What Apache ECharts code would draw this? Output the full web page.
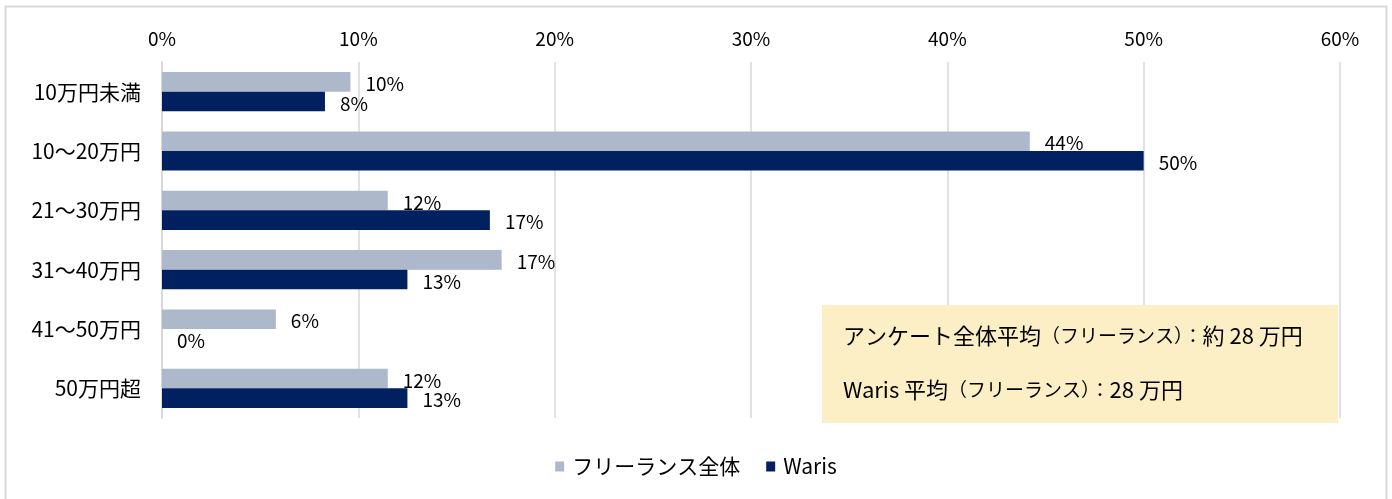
<!DOCTYPE html>
<html>
<head>
<meta charset="utf-8">
<script src="https://cdn.jsdelivr.net/npm/echarts@6/dist/echarts.min.js"></script>
<style>
  html, body { margin: 0; padding: 0; background: #fff; }
  #chart { width: 1392px; height: 499px; }
</style>
</head>
<body>
<div id="chart"></div>
<script>
const categories = ['10万円未満', '10〜20万円', '21〜30万円', '31〜40万円', '41〜50万円', '50万円超']
const seriesNames = ['フリーランス全体', 'Waris']
// percent values
const allFreelance = [9.6, 44.2, 11.5, 17.3, 5.8, 11.5]
const waris = [8.3, 50.0, 16.7, 12.5, 0, 12.5]
const xTicks = [0, 10, 20, 30, 40, 50, 60]
// note text split so the bracketed part can be drawn narrower, like the original
const noteLine1 = ['アンケート全体平均', '（フリーランス）：', '約 28 万円']
const noteLine2 = ['Waris 平均', '（フリーランス）：', '28 万円']

const font = '"Noto Sans CJK JP", "Noto Sans", sans-serif'

const barLabel = {
  show: true,
  position: 'right',
  distance: 15,
  offset: [0, 2],
  color: '#000',
  fontSize: 19,
  fontFamily: font,
  formatter: p => Math.round(p.value) + '%'
}

const noteRich = {
  b: { fontSize: 22, fontFamily: font, color: '#000', verticalAlign: 'middle' },
  s: { fontSize: 19, fontFamily: font, color: '#000', verticalAlign: 'middle' }
}

const option = {
  animation: false,
  textStyle: { fontFamily: font },
  grid: { left: 162, right: 52, top: 62, bottom: 81 },
  xAxis: {
    type: 'value',
    position: 'top',
    min: xTicks[0],
    max: xTicks[xTicks.length - 1],
    interval: 10,
    axisLine: { show: false },
    axisTick: { show: false },
    axisLabel: { color: '#000', fontSize: 19, margin: 14, formatter: v => v + '%' },
    splitLine: { lineStyle: { color: '#d9d9d9', width: 1.5 } }
  },
  yAxis: {
    type: 'category',
    inverse: true,
    data: categories,
    axisLine: { lineStyle: { color: '#d9d9d9', width: 2 } },
    axisTick: { show: false },
    axisLabel: { color: '#000', fontSize: 21, margin: 21 }
  },
  legend: {
    bottom: 17,
    left: 'center',
    itemWidth: 9,
    itemHeight: 10,
    itemGap: 26,
    icon: 'rect',
    textStyle: { color: '#000', fontSize: 21, fontFamily: font, padding: [0, 0, 0, 3] },
    data: seriesNames
  },
  series: [
    {
      name: seriesNames[0],
      type: 'bar',
      data: allFreelance,
      barGap: '0%',
      barCategoryGap: '34%',
      itemStyle: { color: '#adb9ca' },
      label: barLabel
    },
    {
      name: seriesNames[1],
      type: 'bar',
      data: waris,
      itemStyle: { color: '#002060' },
      label: barLabel
    }
  ],
  graphic: [
    {
      type: 'rect',
      shape: { x: 5.5, y: 6.5, width: 1381, height: 520 },
      style: { fill: 'none', stroke: '#d9d9d9', lineWidth: 2 },
      silent: true
    },
    {
      type: 'rect',
      shape: { x: 822, y: 305, width: 516, height: 118 },
      style: { fill: '#fdefc5' },
      z: 10
    },
    {
      type: 'text',
      left: 843,
      top: 325,
      z: 11,
      style: {
        text: '{b|' + noteLine1[0] + '}{s|' + noteLine1[1] + '}{b|' + noteLine1[2] + '}',
        rich: noteRich
      }
    },
    {
      type: 'text',
      left: 843,
      top: 379,
      z: 11,
      style: {
        text: '{b|' + noteLine2[0] + '}{s|' + noteLine2[1] + '}{b|' + noteLine2[2] + '}',
        rich: noteRich
      }
    }
  ]
}

const chart = echarts.init(document.getElementById('chart'))
chart.setOption(option)
</script>
</body>
</html>
